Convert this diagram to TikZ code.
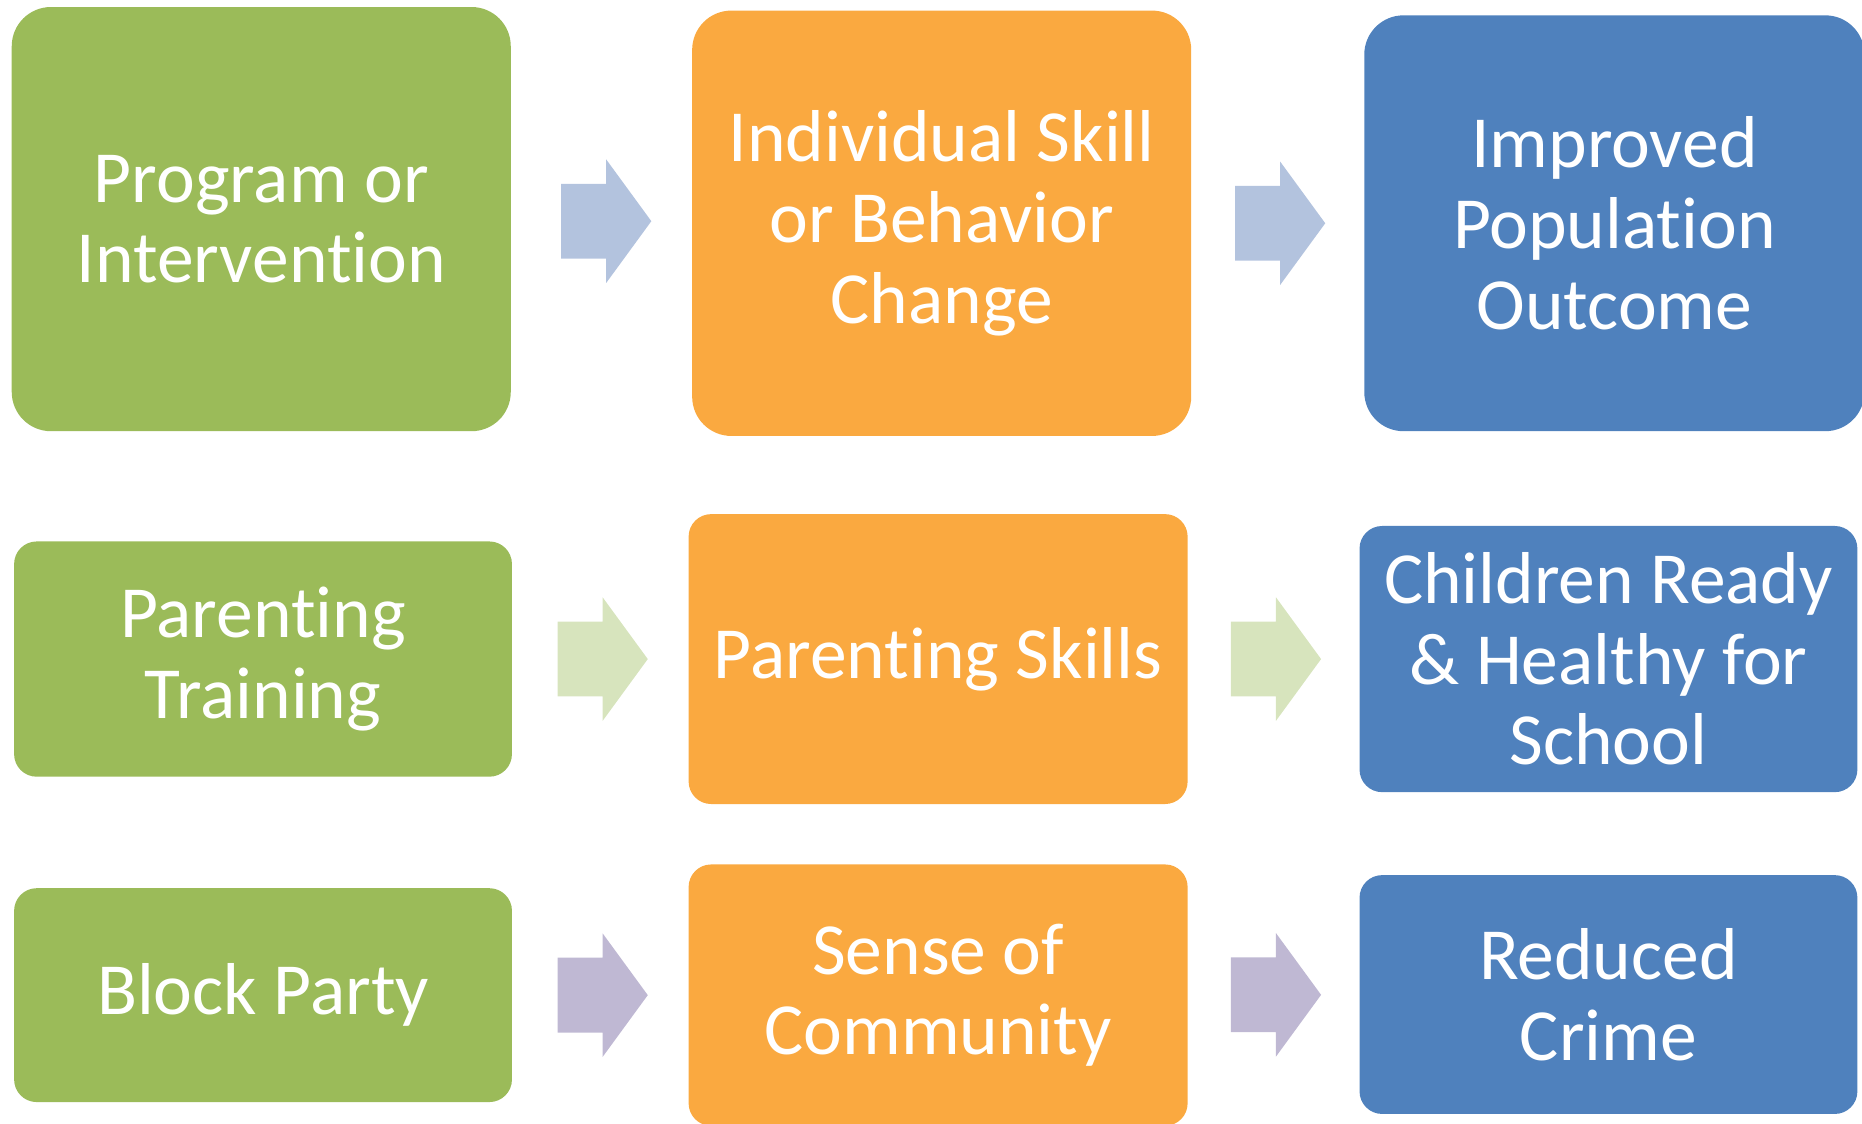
\documentclass[tikz,border=0pt]{standalone}
\usepackage{fontspec}
\setmainfont{Carlito}[Ligatures=NoCommon]
\usetikzlibrary{calc}
\definecolor{boxgreen}{HTML}{9BBB59}
\definecolor{boxorange}{HTML}{FAA940}
\definecolor{boxblue}{HTML}{4F81BD}
\definecolor{arrblue}{HTML}{B3C3DE}
\definecolor{arrgreen}{HTML}{D7E4BD}
\definecolor{arrpurple}{HTML}{BFB8D3}
\begin{document}
\begin{tikzpicture}[x=0.01cm,y=-0.01cm,
  card/.style={rectangle, inner sep=0pt, text=white, align=center,
    font=\fontsize{17.6}{19.3}\selectfont},
  bigcard/.style={card, rounded corners=0.33cm},
  smallcard/.style={card, rounded corners=0.19cm},
  green/.style={fill=boxgreen},
  orange/.style={fill=boxorange},
  blue/.style={fill=boxblue},
  blockarr/.pic={\fill[pic actions] (-38,-31.5) -- (0,-31.5) -- (0,-52) -- (38,0)
                 -- (0,52) -- (0,31.5) -- (-38,31.5) -- cycle;}
]
\useasboundingbox (0,0) rectangle (1568,945.7);
\clip (0,0) rectangle (1568,945.7);

% top row: the general logic model
\node[bigcard, green,  minimum width=4.20cm, minimum height=3.57cm] (g1) at (220,184.5)
  {Program or\\Intervention};
\node[bigcard, orange, minimum width=4.20cm, minimum height=3.58cm] (o1) at (793,188)
  {Individual Skill\\or Behavior\\Change};
\node[bigcard, blue,   minimum width=4.21cm, minimum height=3.50cm] (b1) at (1359.5,188)
  {Improved\\Population\\Outcome};

% middle row
\node[smallcard, green,  minimum width=4.19cm, minimum height=1.98cm] (g2) at (221.5,555)
  {Parenting\\Training};
\node[smallcard, orange, minimum width=4.20cm, minimum height=2.44cm] (o2) at (790,555)
  {Parenting Skills};
\node[smallcard, blue,   minimum width=4.19cm, minimum height=2.24cm] (b2) at (1354.5,555)
  {Children Ready\\\& Healthy for\\School};

% bottom row
\node[smallcard, green,  minimum width=4.19cm, minimum height=1.80cm] (g3) at (221.5,838)
  {Block Party};
\node[smallcard, orange, minimum width=4.20cm, minimum height=2.20cm] (o3) at (790,838)
  {Sense of\\Community};
\node[smallcard, blue,   minimum width=4.19cm, minimum height=2.01cm] (b3) at (1354.5,837.5)
  {Reduced\\Crime};

% block arrows between the stages
\pic[fill=arrblue]   at ($(g1.east)!0.5!(o1.west)+(4,0)$) {blockarr};
\pic[fill=arrblue]   at ($(o1.east)!0.5!(b1.west)+(2,0)$) {blockarr};
\pic[fill=arrgreen]  at ($(g2.east)!0.5!(o2.west)+(2,0)$) {blockarr};
\pic[fill=arrgreen]  at ($(o2.east)!0.5!(b2.west)+(2,0)$) {blockarr};
\pic[fill=arrpurple] at ($(g3.east)!0.5!(o3.west)+(2,0)$) {blockarr};
\pic[fill=arrpurple] at ($(o3.east)!0.5!(b3.west)+(2,0)$) {blockarr};
\end{tikzpicture}
\end{document}
